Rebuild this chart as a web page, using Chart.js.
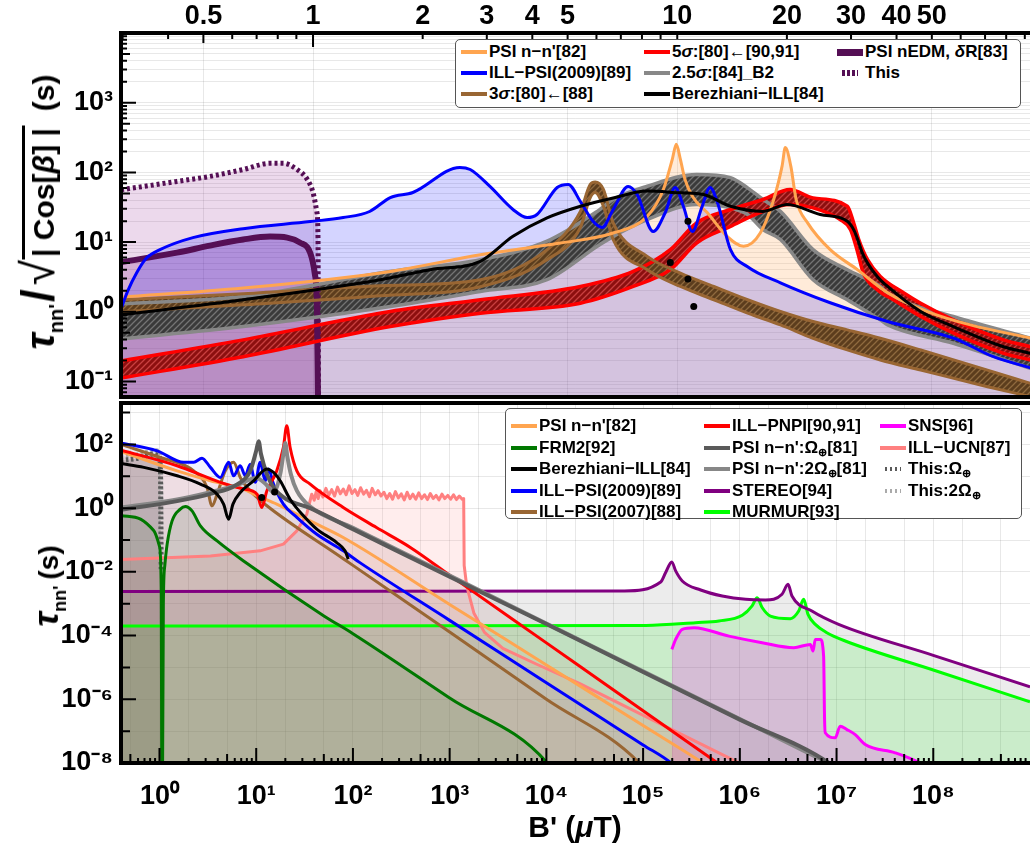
<!DOCTYPE html>
<html><head><meta charset="utf-8">
<script src="https://cdn.jsdelivr.net/npm/chart.js@4.4.1/dist/chart.umd.min.js"></script>
<style>
body{margin:0;background:#fff;}
#wrap{position:relative;width:1030px;height:847px;overflow:hidden;font-family:'Liberation Sans',Arial,sans-serif;color:#000;}
canvas{position:absolute;left:0;display:block;}
.leg{position:absolute;background:#fff;border:1.5px solid #555;border-radius:5px;box-sizing:border-box;}
.li{position:absolute;font-weight:bold;font-size:17px;white-space:nowrap;line-height:20px;}
.li sub{font-size:0.65em;vertical-align:-0.3em;line-height:0;}
.sw{position:absolute;}
.title{position:absolute;font-weight:bold;white-space:nowrap;color:#000;}
</style></head><body>
<div id="wrap">
<canvas id="cTop" width="1030" height="400" style="top:0"></canvas>
<canvas id="cBot" width="1030" height="447" style="top:400px"></canvas>
<div class="leg" style="left:455px;top:39px;width:566px;height:69px"></div>
<div class="leg" style="left:505px;top:408px;width:517px;height:111px"></div>
<div class="title" style="left:38px;top:212px;transform:translate(-50%,-50%) rotate(-90deg);font-size:30px;"><span style="font-size:40px;font-style:italic">τ</span><span style="font-size:20px;position:relative;top:9px">nn'</span><span style="font-size:46px;margin-left:2px">/</span><span style="font-size:46px;font-weight:normal;margin-left:4px">√</span><span style="border-top:3px solid #000;padding:2px 3px 0 3px;">| Cos[<i>β</i>] |</span><span style="margin-left:14px">(s)</span></div>
<div class="title" style="left:46px;top:586px;transform:translate(-50%,-50%) rotate(-90deg);font-size:28px;"><span style="font-size:36px;font-style:italic">τ</span><span style="font-size:18px;position:relative;top:8px">nn'</span><span style="margin-left:6px">(s)</span></div>
<div class="title" style="left:575px;top:827px;transform:translate(-50%,-50%);font-size:30px;">B' (<i>μ</i>T)</div>
</div>
<script>
// ===================== DATA =====================
// ---- top panel: tau/sqrt|cos beta| vs B' (uT) ----
const TOP_PSI_NN = [[0.297,1.62],[0.643,2.19],[1.63,3.8],[2.88,6.6],[4.77,9.7],[6.67,13.5],[8.27,23.5],[9.16,57],[9.69,154],[9.94,253],[10.2,154],[10.5,79.4],[11.0,45.6],[12.1,26.3],[13.7,12.1],[15.2,8.7],[16.9,13.5],[18.4,40.9],[19.4,123],[19.8,227],[20.5,123],[21.2,40.9],[22.8,18.9],[26.3,7.8],[31.3,4.0],[37.8,1.88],[48.6,1.01],[63.8,0.65],[93.3,0.42]];
const TOP_ILL_PSI_2009 = [[0.297,1.1],[0.310,2.0],[0.328,3.64],[0.35,6.0],[0.380,7.8],[0.468,11.6],[0.643,15.6],[0.982,19.7],[1.21,22.5],[1.43,27.5],[1.63,43.6],[1.88,51.5],[2.53,118],[2.70,110],[3.06,62.9],[3.54,29.4],[3.87,22.5],[4.12,24.9],[4.68,60.8],[5.02,67.2],[5.42,38.3],[5.88,19.7],[6.22,16.2],[6.67,29.4],[7.33,62.9],[7.76,48.2],[8.59,14.2],[9.27,26.6],[9.87,60.8],[10.4,32.4],[11.0,14.2],[11.7,32.4],[12.3,60.8],[12.9,36.8],[14.0,7.8],[15.6,4.44],[19.2,2.61],[26.3,1.35],[37.8,0.725],[57.3,0.42],[73.8,0.227],[93.3,0.157]];
const TOP_BEREZHIANI_ILL = [[0.297,0.906],[0.643,1.49],[1.53,2.89],[2.10,4.02],[2.88,5.3],[3.54,12.1],[4.39,22.3],[5.42,32.7],[6.67,43],[8.27,53.9],[10.2,50.9],[11.8,48.2],[14.0,32.7],[17.2,27.6],[20.0,34.6],[24.7,24.9],[29.3,19.9],[30.5,15.1],[31.3,10.9],[32.2,7.06],[33.3,5.0],[35.4,3.22],[37.8,2.31],[46.6,1.01],[57.3,0.615],[78.7,0.316],[93.3,0.254]];
const TOP_5SIGMA_UP = [[0.297,0.197],[0.643,0.396],[1.63,1.01],[2.88,1.49],[5.42,2.31],[7.57,3.8],[9.57,7.8],[11.3,18.9],[14.0,29.4],[17.2,40.9],[20.4,57],[23.6,43],[29.3,32.7],[30.5,19],[31.5,10.9],[33.3,5.6],[36.1,3.22],[41.8,1.88],[46.6,1.33],[57.3,0.767],[78.7,0.396],[93.3,0.316]];
const TOP_5SIGMA_LO = [[0.297,0.112],[0.643,0.227],[1.63,0.615],[2.88,0.957],[5.42,1.33],[7.57,2.31],[9.57,4.02],[11.3,9.7],[14.0,16.8],[17.2,27.6],[20.4,34.6],[23.6,31],[28.0,21.1],[29.9,15.1],[31.3,7.06],[32.4,3.64],[35.4,2.07],[39.2,1.49],[46.6,0.856],[57.3,0.494],[78.7,0.254],[93.3,0.204]];
const TOP_25SIGMA_UP = [[0.297,1.30],[0.643,1.66],[1.63,3.8],[2.88,5.6],[4.39,10.3],[6.03,27.6],[6.67,40.9],[8.27,63.3],[11.3,93.5],[14.0,84],[15.6,60],[17.2,40.9],[19.2,27.6],[23.6,7.8],[29.3,4.02],[36.1,2.31],[37.8,1.86],[57.3,0.856],[93.3,0.42]];
const TOP_25SIGMA_LO = [[0.297,0.41],[0.643,0.615],[1.63,1.19],[2.88,1.96],[4.39,2.89],[6.03,8.7],[6.67,12.1],[8.27,21.1],[11.3,34.6],[14.0,31],[15.6,24.9],[17.2,15.1],[19.2,10.9],[23.6,2.89],[29.3,1.49],[36.1,0.767],[37.8,0.65],[57.3,0.354],[93.3,0.155]];
const TOP_3SIGMA_UP = [[0.297,1.49],[0.643,1.81],[1.53,2.37],[2.88,2.89],[4.39,7.8],[5.42,27.5],[5.77,67.2],[5.95,72.6],[6.27,57],[6.67,18.9],[8.27,6.25],[10.2,3.6],[12.6,2.31],[15.6,1.49],[19.2,1.01],[23.6,0.725],[29.3,0.551],[36.1,0.418],[46.6,0.284],[71.1,0.146],[93.3,0.094]];
const TOP_3SIGMA_LO = [[0.297,1.0],[0.643,1.26],[1.53,1.70],[2.88,2.29],[4.39,5.6],[5.42,16.2],[5.77,43.6],[5.95,51.5],[6.27,32.7],[6.67,10.9],[8.27,4.02],[10.2,2.31],[12.6,1.49],[15.6,0.957],[19.2,0.65],[23.6,0.418],[29.3,0.284],[36.1,0.204],[46.6,0.146],[71.1,0.0844],[93.3,0.0605]];
const TOP_PSI_NEDM = [[0.297,5.15],[0.423,7.06],[0.521,8.91],[0.643,10.9],[0.762,12.0],[0.849,11.6],[0.921,9.84],[0.982,7.06],[1.01,3.64],[1.025,1.18],[1.032,0.05]];
const TOP_THIS = [[0.297,56.3],[0.423,74.3],[0.521,87.6],[0.643,110],[0.762,135],[0.828,135],[0.904,110],[0.964,79.4],[1.0,51.5],[1.025,26.6],[1.032,10.9],[1.035,0.05]];
const TOP_DOTS = [[10.7,19.9],[9.57,5.12],[10.7,2.95],[11.1,1.19]];

// ---- bottom panel: tau_nn' vs B' (uT) ----
const BOT_PSI_NN = [[0.4,60.3],[1.52,14.8],[3.36,7.24],[7.40,3.98],[10.2,2.45],[16.3,1.34],[36.1,0.398],[79.4,0.120],[1e3,9.5e-4],[1e4,1.2e-5],[1e5,1.5e-7],[4.17e5,1e-8],[5.0e5,6.9e-9]];
const BOT_FRM2 = [[0.4,0.589],[0.637,0.451],[0.875,0.195],[1.0,0.0631],[1.042,3.16e-3],[1.057,6e-9],[1.076,6e-9],[1.096,1e-3],[1.135,1.58e-2],[1.20,7.41e-2],[1.35,0.398],[1.64,0.933],[1.85,1.13],[2.17,0.822],[2.65,0.278],[3.94,9.33e-2],[7.40,2.19e-2],[50.6,4.07e-4],[100,1.15e-4],[1e3,1.1e-6],[1.02e4,1e-8],[1.12e4,6.3e-9]];
const BOT_BEREZHIANI_ILL = [[0.4,25.1],[0.689,19.1],[1.52,10.4],[2.65,5.69],[3.94,2.75],[4.60,1.34],[5.19,0.451],[5.75,1.34],[6.84,3.09],[9.40,7.24],[12.9,17.0],[15.1,13.2],[17.7,7.24],[22.4,1.91],[30.8,0.575],[42.3,0.219],[67.9,8.32e-2],[82.8,4.57e-2],[89.5,2.51e-2]];
const BOT_ILL_PSI_2009 = [[0.4,112],[0.946,63.1],[1.78,27.5],[2.26,27.5],[2.75,37.2],[3.36,19.1],[4.26,9.23],[5.19,27.5],[5.83,10.4],[6.84,21.4],[7.71,10.4],[8.67,24.0],[9.77,6.46],[11.0,27.5],[12.4,7.24],[13.4,17.0],[15.1,5.69],[19.1,1.34],[26.3,0.513],[42.3,0.151],[79.4,4.57e-2],[118,1.95e-2],[1e3,3.0e-4],[1e4,3.3e-6],[1e5,3.7e-8],[1.95e5,1e-8],[2.24e5,6.6e-9]];
const BOT_ILL_PSI_2007 = [[0.4,100],[1.02,38.9],[2.26,14.8],[3.10,4.47],[3.49,1.18],[3.94,2.75],[4.79,14.8],[5.83,27.5],[6.84,9.23],[8.67,3.5],[12.6,1.26],[79.4,2.6e-2],[100,1.6e-2],[1e3,1.3e-4],[1e4,1.0e-6],[9.12e4,1e-8],[1.05e5,5.6e-9]];
const BOT_ILL_PNPI = [[0.4,66.1],[1.52,21.4],[4.26,6.46],[7.40,3.98],[10.2,2.75],[11.4,1.05],[12.9,3.5],[16.3,14.8],[19.1,81.3],[20.7,389],[22.4,81.3],[26.3,14.8],[36.1,5.69],[79.4,1.05],[175,0.247],[396,5.75e-2],[1e3,7.9e-3],[1e4,5.9e-5],[1e5,4.4e-7],[6.58e5,7.9e-9]];
const BOT_PSI_OMEGA = [[0.4,0.891],[1.52,1.66],[3.36,2.82],[6.31,5.5],[8.67,14.8],[10.0,63.1],[10.6,126],[11.2,50.1],[12.9,11.7],[15.1,4.47],[20.0,2.0],[36.1,1.0],[100,0.219],[1e3,7.0e-3],[1e4,2.3e-4],[1e5,7.2e-6],[1e6,2.3e-7],[8.32e6,1e-8],[9.5e6,7e-9]];
const BOT_PSI_2OMEGA = [[0.4,1.05],[1.52,1.86],[3.36,3.16],[6.31,5.25],[10.0,8.91],[12.6,5.62],[15.1,3.16],[17.8,12.6],[19.1,50.1],[20.0,112],[20.9,44.7],[22.9,11.2],[26.3,3.55],[36.1,1.12],[100,0.243],[1e3,7.6e-3],[1e4,2.4e-4],[1e5,7.6e-6],[1e6,2.4e-7],[8.91e6,8.9e-9]];
const BOT_STEREO = [[0.4,2.4e-3],[6.37e4,2.51e-3],[1.52e5,4.82e-3],[1.71e5,9.55e-3],[1.98e5,2.05e-2],[2.17e5,1.07e-2],[2.54e5,5.18e-3],[3.94e5,2.7e-3],[6.58e5,1.75e-3],[1.15e6,1.37e-3],[1.84e6,1.31e-3],[2.73e6,1.98e-3],[3.15e6,4.07e-3],[3.46e6,1.75e-3],[5.56e6,5.89e-4],[1.05e7,2.25e-4],[1e8,2.4e-5],[1e9,2.45e-6]];
const BOT_MURMUR = [[0.4,2.0e-4],[1.07e5,2.09e-4],[3.49e5,2.54e-4],[6.08e5,2.88e-4],[1.06e6,4.32e-4],[1.34e6,8.51e-4],[1.51e6,1.55e-3],[1.70e6,7.59e-4],[2.07e6,4.10e-4],[3.33e6,3.39e-4],[4.06e6,5.89e-4],[4.57e6,1.37e-3],[5.07e6,4.65e-4],[6.03e6,2.25e-4],[7.94e6,1.23e-4],[1.23e7,6.76e-5],[1e8,8.3e-6],[1e9,8.3e-7]];
const BOT_SNS = [[1.98e5,3.68e-5],[2.17e5,7.59e-5],[2.54e5,1.57e-4],[3.36e5,1.77e-4],[7.71e5,9.6e-5],[1.70e6,5.97e-5],[3.61e6,4.17e-5],[5.36e6,5.28e-5],[5.70e6,3.26e-5],[6.03e6,7.59e-5],[6.79e6,7.59e-5],[7.35e6,2.26e-5],[7.52e6,2.32e-7],[7.64e6,8.9e-8],[9.68e6,6.17e-8],[1.09e7,1.43e-7],[1.28e7,1.12e-7],[1.56e7,7.8e-8],[1.98e7,3.8e-8],[4.03e7,2.09e-8],[7.0e7,1.05e-8],[1.0e8,5e-9]];
const BOT_ILL_UCN = [[0.4,2.45e-2],[3.36,3.16e-2],[11.0,4.57e-2],[19.1,7.41e-2],[26.3,0.194],[33.3,0.646],[37.5,2.75],[39.8,1.78],[41.7,3.31],[43.7,2.0],[45.7,3.55],[49.0,2.24],[52.5,4.17],[56.2,2.51],[60.3,3.80],[64.6,2.40],[69.2,4.57],[74.1,2.82],[79.4,3.98],[85.1,2.63],[91.2,5.01],[97.7,2.88],[105,3.80],[112,2.51],[120,4.37],[129,2.75],[138,3.63],[148,2.29],[158,4.17],[170,2.63],[182,3.55],[195,2.40],[209,3.16],[224,2.0],[240,2.88],[257,1.91],[275,3.31],[295,2.09],[316,2.82],[339,1.82],[363,3.16],[389,2.0],[417,2.75],[447,1.91],[479,3.02],[513,2.0],[550,2.63],[589,1.86],[631,2.88],[676,2.0],[724,2.51],[776,1.82],[832,2.75],[891,2.0],[955,2.51],[1023,1.91],[1096,2.63],[1175,1.86],[1259,2.40],[1349,1.91],[1396,2.0],[1413,1.58e-2],[1500,3.63e-3],[1778,5.13e-4],[2291,1.26e-4],[3548,3.98e-5],[7943,1.26e-5],[2.19e4,3.16e-6],[1.58e5,1.58e-7],[1.15e6,7.94e-9]];
const BOT_THIS_OMEGA = [[0.4,30.9],[0.631,38.0],[0.871,50.1],[0.977,44.7],[1.023,15.8],[1.04,1.1e-2]];
const BOT_THIS_2OMEGA = [[0.4,41.7],[0.562,45.7],[0.794,60.3],[0.933,63.1],[1.0,56.2],[1.028,15.8],[1.042,1.1e-2]];
const BOT_DOTS = [[11.4,2.17],[15.5,3.24]];

// ---- axis ticks / labels ----
const MANTISSAS = [1,2,3,4,5,6,7,8,9];
const TOP_X_TICKS = [0.3,0.4,0.5,0.6,0.7,0.8,0.9,1,2,3,4,5,6,7,8,9,10,20,30,40,50,60,70,80,90];
const TOP_X_LABELS = [0.5,1,2,3,4,5,10,20,30,40,50];
const TOP_X_GRID = [0.5,1,5,10,50];
const TOP_Y_DECADES = [-2,-1,0,1,2,3,4];
const TOP_Y_LABELS = [[0.1,'10⁻¹'],[1,'10⁰'],[10,'10¹'],[100,'10²'],[1000,'10³']];
const BOT_X_DECADES = [-1,0,1,2,3,4,5,6,7,8];
const BOT_X_LABELS = [[1,'10⁰'],[10,'10¹'],[100,'10²'],[1e3,'10³'],[1e4,'10⁴'],[1e5,'10⁵'],[1e6,'10⁶'],[1e7,'10⁷'],[1e8,'10⁸']];
const BOT_Y_DECADES = [-8,-7,-6,-5,-4,-3,-2,-1,0,1,2,3];
const BOT_Y_LABELS = [[100,'10²'],[1,'10⁰'],[1e-2,'10⁻²'],[1e-4,'10⁻⁴'],[1e-6,'10⁻⁶'],[1e-8,'10⁻⁸']];

// ---- colours ----
const C_ORANGE='rgb(255,165,80)', C_BROWN='rgb(153,102,51)', C_NEDM='rgb(85,15,85)', C_GREEN='rgb(0,120,0)',
      C_G1='rgb(90,90,90)', C_G2='rgb(135,135,135)', C_PURPLE='rgb(128,0,128)', C_LIME='rgb(0,255,0)',
      C_MAG='rgb(255,0,255)', C_PINK='rgb(255,128,128)';

// ---- legends ----
const TOP_LEGEND = [
 {html:"PSI n−n'[82]", color:C_ORANGE, col:0,row:0},
 {html:"ILL−PSI(2009)[89]", color:'#0000ff', col:0,row:1},
 {html:"3<i>σ</i>:[80]←[88]", color:C_BROWN, col:0,row:2},
 {html:"5<i>σ</i>:[80]←[90,91]", color:'#ff0000', col:1,row:0},
 {html:"2.5<i>σ</i>:[84]_B2", color:'#888', col:1,row:1},
 {html:"Berezhiani−ILL[84]", color:'#000', col:1,row:2},
 {html:"PSI nEDM, <i>δ</i>R[83]", color:C_NEDM, col:2,row:0, thick:7},
 {html:"This", color:C_NEDM, col:2,row:1, dotted:true, thick:6}
];
const BOT_LEGEND = [
 {html:"PSI n−n'[82]", color:C_ORANGE, col:0,row:0},
 {html:"FRM2[92]", color:C_GREEN, col:0,row:1},
 {html:"Berezhiani−ILL[84]", color:'#000', col:0,row:2},
 {html:"ILL−PSI(2009)[89]", color:'#0000ff', col:0,row:3},
 {html:"ILL−PSI(2007)[88]", color:C_BROWN, col:0,row:4},
 {html:"ILL−PNPI[90,91]", color:'#ff0000', col:1,row:0},
 {html:"PSI n−n':Ω<sub>⊕</sub>[81]", color:C_G1, col:1,row:1},
 {html:"PSI n−n':2Ω<sub>⊕</sub>[81]", color:C_G2, col:1,row:2},
 {html:"STEREO[94]", color:C_PURPLE, col:1,row:3},
 {html:"MURMUR[93]", color:C_LIME, col:1,row:4},
 {html:"SNS[96]", color:C_MAG, col:2,row:0},
 {html:"ILL−UCN[87]", color:C_PINK, col:2,row:1},
 {html:"This:Ω<sub>⊕</sub>", color:C_G1, col:2,row:2, dotted:true},
 {html:"This:2Ω<sub>⊕</sub>", color:'rgb(170,170,170)', col:2,row:3, dotted:true}
];

// ===================== RENDERING =====================
const FONT = "'Liberation Sans', Arial, sans-serif";
Chart.defaults.font.family = FONT;
const L10 = Math.log10;
const expOf = v => Math.floor(L10(v) + 1e-9);
const mant = v => Math.round(v / Math.pow(10, expOf(v)));
const near = (a,b) => Math.abs(L10(a) - L10(b)) < 1e-6;
function ticksFrom(decades, mants, min, max){
  const out=[]; for (const e of decades) for (const m of mants){ const v=m*Math.pow(10,e); if (v>=min*0.9999 && v<=max*1.0001) out.push(v); } return out;
}
const labelFor = (list, v) => { const f = list.find(p => near(p[0], v)); return f ? f[1] : ''; };
const pairs = arr => arr.map(p => ({x:p[0], y:p[1]}));

function hatch(bg, fg){
  const c=document.createElement('canvas'); c.width=6; c.height=6;
  const g=c.getContext('2d'); g.fillStyle=bg; g.fillRect(0,0,6,6);
  g.strokeStyle=fg; g.lineWidth=1.3; g.beginPath();
  g.moveTo(-1,7); g.lineTo(7,-1); g.moveTo(-1,1); g.lineTo(1,-1); g.moveTo(5,7); g.lineTo(7,5); g.stroke();
  return g.createPattern(c,'repeat');
}
const H_RED = hatch('#8c0f0f','#c94040'), H_GRAY = hatch('#3a3a3a','#747474'), H_BROWN = hatch('#5c3d1d','#8f6a3f');

function makeFrame(cfg){
  return { id:'frame', afterDatasetsDraw(chart){
    const {ctx, chartArea:a, scales} = chart;
    ctx.save(); ctx.strokeStyle='#000'; ctx.lineWidth=2; ctx.beginPath();
    for (const v of cfg.xTicks){
      const px = scales.x.getPixelForValue(v); if (px < a.left-1 || px > a.right+1) continue;
      const len = cfg.xLen(v);
      if (cfg.xEdge==='top'){ ctx.moveTo(px,a.top); ctx.lineTo(px,a.top+len); }
      else { ctx.moveTo(px,a.bottom); ctx.lineTo(px,a.bottom-len); }
    }
    for (const v of cfg.yTicks){
      const py = scales.y.getPixelForValue(v); if (py < a.top-1 || py > a.bottom+1) continue;
      const len = cfg.yLen(v); ctx.moveTo(a.left,py); ctx.lineTo(a.left+len,py);
    }
    ctx.stroke();
    ctx.lineWidth=4; ctx.lineCap='square'; ctx.beginPath();
    ctx.moveTo(a.right+4,a.top); ctx.lineTo(a.left,a.top); ctx.lineTo(a.left,a.bottom); ctx.lineTo(a.right+4,a.bottom);
    ctx.stroke(); ctx.restore();
  }};
}

const tickFont = {family:FONT, size:27, weight:'bold'};
function logScale(o){
  return {
    type:'logarithmic', position:o.position, min:o.min, max:o.max,
    afterBuildTicks: s => { s.ticks = o.ticks.map(v => ({value:v})); },
    afterFit: s => { o.fit(s); s.paddingTop = 0; s.paddingBottom = 0; s.paddingLeft = 0; s.paddingRight = 0; },
    ticks:{autoSkip:false, maxRotation:0, minRotation:0, padding:o.padding, color:'#000', font:tickFont, callback: v => o.label(v)},
    grid:{drawTicks:false, lineWidth:1, color: c => (c.tick && o.grid(c.tick.value)) ? 'rgba(0,0,0,0.09)' : 'rgba(0,0,0,0)'},
    border:{display:false}
  };
}
const base = {pointRadius:0, borderWidth:3, fill:false, cubicInterpolationMode:'monotone', borderJoinStyle:'round'};
const line = (data, color, extra) => Object.assign({}, base, {data:pairs(data), borderColor:color, backgroundColor:'rgba(0,0,0,0)'}, extra||{});

// ---------- top chart ----------
const TOP_Y_TICKS = ticksFrom(TOP_Y_DECADES, MANTISSAS, 0.06, 1e4);
new Chart(document.getElementById('cTop'), {
  type:'line',
  data:{datasets:[
    {data:pairs(TOP_DOTS), showLine:false, pointRadius:3.5, pointBackgroundColor:'#000', pointBorderWidth:0, borderColor:'#000'},
    line(TOP_BEREZHIANI_ILL, '#000'),
    line(TOP_ILL_PSI_2009, '#0000ff'),
    line(TOP_PSI_NN, C_ORANGE),
    line(TOP_3SIGMA_UP, C_BROWN),
    line(TOP_3SIGMA_LO, C_BROWN, {fill:'-1', backgroundColor:H_BROWN}),
    line(TOP_5SIGMA_UP, '#ff0000', {borderWidth:3.5}),
    line(TOP_5SIGMA_LO, '#ff0000', {borderWidth:3.5, fill:'-1', backgroundColor:H_RED}),
    line(TOP_25SIGMA_UP, '#888', {borderWidth:3.5}),
    line(TOP_25SIGMA_LO, '#888', {borderWidth:3.5, fill:'-1', backgroundColor:H_GRAY}),
    line(TOP_ILL_PSI_2009, 'rgba(0,0,0,0)', {borderWidth:0, fill:'start', backgroundColor:'rgba(0,0,255,0.17)'}),
    line(TOP_PSI_NN, 'rgba(0,0,0,0)', {borderWidth:0, fill:'start', backgroundColor:'rgba(255,165,80,0.22)'}),
    line(TOP_PSI_NEDM, C_NEDM, {borderWidth:6, fill:'start', backgroundColor:'rgba(140,40,140,0.25)'}),
    line(TOP_THIS, C_NEDM, {borderWidth:5, borderDash:[3,3], fill:'start', backgroundColor:'rgba(128,0,128,0.15)'})
  ]},
  options:{
    responsive:false, animation:false, devicePixelRatio:1, events:[],
    layout:{autoPadding:false, padding:{left:0,right:0,top:0,bottom:3}},
    plugins:{legend:{display:false}, tooltip:{enabled:false}, filler:{drawTime:'beforeDatasetsDraw', propagate:false}},
    scales:{
      x: logScale({position:'top', min:0.297, max:93, ticks:TOP_X_TICKS, padding:0,
         fit: s => { s.height = 33; },
         label: v => TOP_X_LABELS.some(t => near(t,v)) ? String(v) : '',
         grid: v => TOP_X_GRID.some(t => near(t,v))}),
      y: logScale({position:'left', min:0.06, max:1e4, ticks:TOP_Y_TICKS, padding:8,
         fit: s => { s.width = 121; },
         label: v => labelFor(TOP_Y_LABELS, v),
         grid: v => true})
    }
  },
  plugins:[makeFrame({xEdge:'top', xTicks:TOP_X_TICKS, yTicks:TOP_Y_TICKS,
    xLen: v => mant(v)===1 ? 14 : (mant(v)===5 ? 10 : 6),
    yLen: v => mant(v)===1 ? 15 : (mant(v)===5 ? 9 : 6)})]
});

// ---------- bottom chart ----------
const BOT_X_TICKS = ticksFrom(BOT_X_DECADES, MANTISSAS, 0.4, 1e9);
const BOT_Y_TICKS = ticksFrom(BOT_Y_DECADES, [1], 1e-8, 2e3);
new Chart(document.getElementById('cBot'), {
  type:'line',
  data:{datasets:[
    {data:pairs(BOT_DOTS), showLine:false, pointRadius:3.5, pointBackgroundColor:'#000', pointBorderWidth:0, borderColor:'#000'},
    line(BOT_BEREZHIANI_ILL, '#000'),
    line(BOT_PSI_OMEGA, C_G1, {borderWidth:4, fill:'start', backgroundColor:'rgba(80,80,80,0.05)'}),
    line(BOT_PSI_2OMEGA, C_G2, {borderWidth:4, fill:'start', backgroundColor:'rgba(130,130,130,0.05)'}),
    line(BOT_ILL_PNPI, '#ff0000', {fill:'start', backgroundColor:'rgba(255,0,0,0.04)'}),
    line(BOT_ILL_PSI_2009, '#0000ff', {fill:'start', backgroundColor:'rgba(0,0,255,0.05)'}),
    line(BOT_PSI_NN, C_ORANGE, {fill:'start', backgroundColor:'rgba(255,165,80,0.06)'}),
    line(BOT_ILL_PSI_2007, C_BROWN, {fill:'start', backgroundColor:'rgba(150,100,50,0.05)'}),
    line(BOT_FRM2, C_GREEN, {fill:'start', backgroundColor:'rgba(0,100,0,0.10)'}),
    line(BOT_ILL_UCN, C_PINK, {cubicInterpolationMode:'default', tension:0, fill:'start', backgroundColor:'rgba(255,128,128,0.14)'}),
    line(BOT_SNS, C_MAG, {fill:'start', backgroundColor:'rgba(255,0,255,0.2)'}),
    line(BOT_STEREO, C_PURPLE, {fill:'start', backgroundColor:'rgba(128,128,128,0.15)'}),
    line(BOT_MURMUR, C_LIME, {fill:'start', backgroundColor:'rgba(0,255,0,0.16)'}),
    line(BOT_THIS_OMEGA, C_G1, {borderWidth:5, borderDash:[2.5,2.5], fill:'start', backgroundColor:'rgba(90,90,90,0.2)'}),
    line(BOT_THIS_2OMEGA, 'rgb(170,170,170)', {borderWidth:5, borderDash:[2.5,2.5], fill:'start', backgroundColor:'rgba(160,160,160,0.2)'})
  ]},
  options:{
    responsive:false, animation:false, devicePixelRatio:1, events:[],
    layout:{autoPadding:false, padding:{left:0,right:0,top:3,bottom:0}},
    plugins:{legend:{display:false}, tooltip:{enabled:false}, filler:{drawTime:'beforeDatasetsDraw', propagate:false}},
    scales:{
      x: logScale({position:'bottom', min:0.4, max:1e9, ticks:BOT_X_TICKS, padding:17,
         fit: s => { s.height = 84; },
         label: v => labelFor(BOT_X_LABELS, v),
         grid: v => [1,2,5].includes(mant(v))}),
      y: logScale({position:'left', min:1e-8, max:2e3, ticks:BOT_Y_TICKS, padding:8,
         fit: s => { s.width = 121; },
         label: v => labelFor(BOT_Y_LABELS, v),
         grid: v => true})
    }
  },
  plugins:[makeFrame({xEdge:'bottom', xTicks:BOT_X_TICKS, yTicks:BOT_Y_TICKS,
    xLen: v => mant(v)===1 ? 15 : (mant(v)===5 ? 9 : 5),
    yLen: v => (expOf(v) % 2 === 0) ? 15 : 9})]
});

// ---------- legends (HTML) ----------
const wrap = document.getElementById('wrap');
function buildLegend(items, cols, rows){
  for (const it of items){
    const x = cols[it.col], y = rows[it.row], th = it.thick || 4;
    const sw = document.createElement('div'); sw.className='sw';
    let left = x, w = 26;
    if (it.dotted){ left = x + 5; w = 16; }
    sw.style.left = left+'px'; sw.style.top = (y - th/2)+'px'; sw.style.width = w+'px'; sw.style.height = th+'px';
    sw.style.background = it.dotted ? `repeating-linear-gradient(90deg, ${it.color} 0 2.5px, transparent 2.5px 5px)` : it.color;
    wrap.appendChild(sw);
    const t = document.createElement('div'); t.className='li'; t.innerHTML = it.html;
    t.style.left = (x + 28)+'px'; t.style.top = (y - 10)+'px';
    wrap.appendChild(t);
  }
}
buildLegend(TOP_LEGEND, [461, 644, 837], [52, 73, 94]);
buildLegend(BOT_LEGEND, [511, 704, 880], [426, 447.5, 469, 490.5, 512]);
</script>
</body></html>
